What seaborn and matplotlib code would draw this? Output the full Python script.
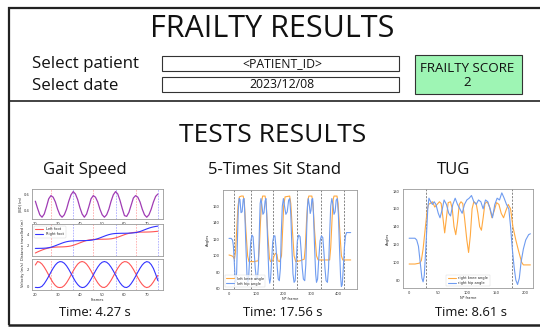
import matplotlib
matplotlib.use("Agg")
import matplotlib.pyplot as plt
from matplotlib.patches import Rectangle
from matplotlib.lines import Line2D
import seaborn as sns
import numpy as np

# ---------------- data ----------------
gait_frames = list(range(20, 76))
gait_bd = [0.51,0.42,0.34,0.31, 0.35,0.44,0.54,0.58, 0.56,0.50,0.41,0.34,0.31,
           0.34,0.41,0.51,0.59,0.63, 0.60,0.53,0.43,0.35,0.31, 0.35,0.44,0.54,0.58,
           0.56,0.50,0.41,0.34,0.31, 0.34,0.41,0.51,0.59,0.63, 0.60,0.52,0.42,0.33,0.32,
           0.37,0.46,0.55,0.58, 0.56,0.50,0.41,0.34,0.31, 0.34,0.41,0.50,0.57,0.60]
gait_dist_left = [0.60,0.80,0.98,1.15,1.30,1.43,1.53,1.61,1.66,1.69,1.71,1.72,1.73,1.75,
                  1.78,1.83,1.91,2.02,2.16,2.31,2.47,2.63,2.78,2.91,3.00,3.06,3.10,3.12,
                  3.13,3.14,3.14,3.15,3.16,3.18,3.22,3.29,3.39,3.52,3.67,3.83,3.98,4.12,
                  4.23,4.32,4.38,4.42,4.44,4.45,4.46,4.46,4.47,4.48,4.50,4.53,4.57,4.61]
gait_dist_right = [1.45,1.45,1.46,1.47,1.49,1.52,1.58,1.67,1.80,1.95,2.11,2.27,2.43,2.57,
                   2.68,2.76,2.81,2.84,2.86,2.87,2.88,2.88,2.89,2.90,2.92,2.96,3.02,3.11,
                   3.24,3.39,3.55,3.71,3.86,3.99,4.09,4.16,4.20,4.22,4.23,4.24,4.24,4.25,
                   4.26,4.28,4.31,4.36,4.45,4.57,4.72,4.88,5.04,5.19,5.32,5.42,5.50,5.56]
gait_vel_left = [2.50,2.90,2.82,2.60,2.25,1.82,1.34,0.87,0.45,0.13,-0.06,-0.10,-0.06,0.13,
                 0.45,0.87,1.34,1.82,2.25,2.60,2.82,2.90,2.82,2.60,2.25,1.82,1.34,0.87,
                 0.45,0.13,-0.06,-0.09,0.05,0.35,0.74,1.20,1.68,2.13,2.51,2.77,2.89,2.86,
                 2.70,2.40,2.00,1.53,1.05,0.60,0.25,0.00,-0.10,-0.03,0.20,0.55,0.98,1.30]
gait_vel_right = [-0.08,-0.10,-0.08,0.05,0.35,0.75,1.20,1.68,2.13,2.51,2.77,2.89,2.86,2.70,
                  2.40,2.00,1.53,1.05,0.60,0.25,0.00,-0.10,-0.06,0.13,0.45,0.87,1.34,1.82,
                  2.25,2.60,2.82,2.90,2.82,2.60,2.25,1.82,1.34,0.87,0.45,0.13,-0.06,-0.09,
                  0.05,0.35,0.74,1.20,1.68,2.13,2.51,2.77,2.89,2.82,2.55,2.10,1.45,0.70]
gait_left_strikes = [27, 46, 65]
gait_right_strikes = [37, 56, 75]

sts_knee_frames = [0,10,15,20,24,28,33,38,45,52,56,62,68,73,90,107,111,115,119,123,132,136,142,148,
                   152,160,165,170,175,179,185,192,196,200,205,222,226,232,238,244,260,275,279,284,
                   289,292,303,307,313,320,326,345,368,372,377,381,384,395,399,405,411,416,430,445]
sts_knee = [101,100,99,96,105,130,160,171,172,172,165,130,100,93,93,94,110,140,165,172,172,163,125,97,
            93,94,100,103,102,94,93,100,130,160,171,172,163,130,100,93,94,96,110,145,
            168,172,172,163,130,100,95,95,95,110,145,168,172,172,163,130,100,95,95,95]
sts_hip_frames = [0,8,13,16,19,22,25,28,31,34,37,40,44,48,52,55,58,62,66,69,72,76,80,84,88,92,96,100,
                  104,108,111,114,117,120,124,128,132,135,138,142,146,149,152,156,160,164,168,172,176,
                  180,184,188,191,195,199,203,208,213,218,222,226,230,234,238,242,246,250,255,260,264,
                  268,272,277,281,284,287,290,294,297,300,303,306,309,313,317,320,324,328,333,338,343,
                  347,351,355,360,364,368,372,376,380,384,388,392,396,400,404,408,411,414,418,422,426,
                  430,440,445]
sts_hip = [121,121,119,112,95,75,68,80,120,155,169,168,152,153,168,169,150,110,75,68,75,100,118,125,123,
           105,85,73,72,90,130,163,169,162,150,152,166,169,150,110,75,67,72,95,117,124,124,110,88,
           72,70,85,125,160,169,160,150,153,167,169,150,110,78,68,70,95,118,125,123,105,
           85,72,70,90,130,160,169,160,151,155,168,169,150,110,78,68,72,95,118,124,122,
           105,85,70,68,85,125,160,169,162,150,153,167,169,150,110,75,63,65,85,110,124,
           128,128,128]
sts_events = [20, 79, 160, 248, 336, 421]

tug_knee_frames = [0,10,18,21,24,28,31,33,36,40,44,48,52,55,58,61,64,67,71,74,77,80,83,86,89,92,95,
                   99,102,105,108,111,115,118,121,124,127,130,134,138,142,146,150,154,158,162,166,170,
                   174,178,183,188,193,196,205,208]
tug_knee = [98,98,99,102,115,140,158,165,166,168,162,165,168,166,150,133,150,167,168,160,140,131,145,
            165,168,166,150,125,111,130,160,168,166,155,140,136,150,166,168,162,150,158,167,165,155,
            150,158,165,160,140,125,112,100,97,97,97]
tug_hip_frames = [0,10,13,16,19,22,24,26,29,32,34,37,40,43,46,50,53,57,60,64,68,71,75,79,83,87,91,95,
                  99,103,107,111,115,119,123,127,131,135,139,143,147,151,155,159,163,167,171,174,177,
                  180,183,186,189,192,196,200,205,208]
tug_hip = [127,127,125,118,100,82,78,85,120,160,172,168,165,168,165,155,150,160,170,165,155,152,165,
           172,165,160,155,165,170,172,175,168,165,170,168,160,170,168,160,150,165,172,170,178,172,
           165,160,140,115,95,80,75,82,100,115,125,131,132]
tug_events = [28.6, 177]

# ---------------- style ----------------
sns.set_style("white")
plt.rcParams['font.family'] = ['Open Sans', 'DejaVu Sans']

W, H = 540, 329
fig = plt.figure(figsize=(W / 100, H / 100), dpi=100)
fig.patch.set_facecolor("white")
fig.patch.set_edgecolor("white")
fig.patch.set_linewidth(0)


def frect(x0, y0, x1, y1):
    return [x0 / W, 1 - y1 / H, (x1 - x0) / W, (y1 - y0) / H]


def ftext(x, y, s, size, ha='center', **kw):
    fig.text(x / W, 1 - y / H, s, fontsize=size, ha=ha, va='baseline', color='#111111', **kw)


def fline(x0, y0, x1, y1, lw=1.6, color='#222222'):
    fig.add_artist(Line2D([x0 / W, x1 / W], [1 - y0 / H, 1 - y1 / H], lw=lw, color=color,
                          transform=fig.transFigure, solid_capstyle='butt'))


def fbox(x0, y0, x1, y1, fc='white', ec='#333333', lw=0.8):
    fig.add_artist(Rectangle((x0 / W, 1 - y1 / H), (x1 - x0) / W, (y1 - y0) / H, fc=fc, ec=ec,
                             lw=lw, transform=fig.transFigure))


# frame lines
fline(8, 7.5, W, 7.5)
fline(8.5, 7, 8.5, 325)
fline(8, 101, W, 101, lw=1.2)
fline(8, 324.5, W, 324.5, lw=1.8)

# header texts
ftext(272.5, 37, "FRAILTY RESULTS", 22)
ftext(32, 68.5, "Select patient", 12.2, ha='left')
ftext(32, 90, "Select date", 12.2, ha='left')
fbox(162, 56, 399, 70.5)
fbox(162, 77.5, 399, 92)
ftext(282, 66.8, "<PATIENT_ID>", 8.8)
ftext(282, 88.3, "2023/12/08", 8.8)
fbox(415, 55, 522, 94, fc='#9ef5b4', ec='#333333')
ftext(467, 71.5, "FRAILTY SCORE", 9.6)
ftext(467, 86, "2", 9.6)

ftext(273, 141.5, "TESTS RESULTS", 19)
ftext(85, 174, "Gait Speed", 12)
ftext(274.5, 174, "5-Times Sit Stand", 12)
ftext(454, 174, "TUG", 12)
ftext(95, 316.5, "Time: 4.27 s", 9.4)
ftext(283, 316.5, "Time: 17.56 s", 9.4)
ftext(471, 316.5, "Time: 8.61 s", 9.4)

TS = 2.6  # tiny font


def style_ax(ax):
    ax.tick_params(labelsize=TS, length=1.2, width=0.3, pad=0.8, colors='#333333')
    for s in ax.spines.values():
        s.set_color('#9a9a9a')
        s.set_linewidth(0.6)
    for lab in ax.get_xticklabels() + ax.get_yticklabels():
        lab.set_fontfamily('DejaVu Sans')


def vlines(ax, xs, color, ls='--', lw=0.4, alpha=1.0):
    for x in xs:
        ax.axvline(x, color=color, ls=ls, lw=lw, alpha=alpha)


# ---------------- gait speed ----------------
ax1 = fig.add_axes(frect(32, 189, 163, 219))
ax2 = fig.add_axes(frect(32, 224, 163, 256))
ax3 = fig.add_axes(frect(32, 259, 163, 290))
for ax in (ax1, ax2, ax3):
    ax.set_xlim(18.5, 77.3)
    ax.set_xticks([20, 30, 40, 50, 60, 70])
    vlines(ax, gait_left_strikes, '#ff8080', lw=0.4, ls=(0, (3, 2)))
    vlines(ax, gait_right_strikes, '#8080ff', lw=0.4, ls=(0, (3, 2)))

sns.lineplot(x=gait_frames, y=gait_bd, ax=ax1, color='#a03cb4', lw=0.9)
ax1.set_ylim(0.2875, 0.6625)
ax1.set_yticks([0.4, 0.6])
ax1.set_ylabel("|BD| (m)", fontsize=TS, labelpad=1, family='DejaVu Sans')

sns.lineplot(x=gait_frames, y=gait_dist_left, ax=ax2, color='#ff5555', lw=0.8, label='Left foot')
sns.lineplot(x=gait_frames, y=gait_dist_right, ax=ax2, color='#3333ff', lw=0.8, label='Right foot')
ax2.set_ylim(0.05, 5.95)
ax2.set_yticks([2, 4])
ax2.set_ylabel("Distance travelled (m)", fontsize=TS, labelpad=1.5, family='DejaVu Sans')
leg = ax2.legend(loc='upper left', fontsize=TS, frameon=True, handlelength=2.2, borderpad=0.4,
                 labelspacing=0.3, prop={'family': 'DejaVu Sans', 'size': TS})
leg.get_frame().set_linewidth(0.3)

sns.lineplot(x=gait_frames, y=gait_vel_left, ax=ax3, color='#ff5555', lw=0.8)
sns.lineplot(x=gait_frames, y=gait_vel_right, ax=ax3, color='#3333ff', lw=0.8)
ax3.set_ylim(-0.38, 3.19)
ax3.set_yticks([0, 2])
ax3.set_ylabel("Velocity (m/s)", fontsize=TS, labelpad=1.5, family='DejaVu Sans')
ax3.set_xlabel("Frames", fontsize=TS, labelpad=1, family='DejaVu Sans')
for ax in (ax1, ax2, ax3):
    style_ax(ax)

# ---------------- 5 times sit stand ----------------
ax4 = fig.add_axes(frect(222.7, 190, 356.7, 289))
vlines(ax4, sts_events, '#555555', lw=0.5, ls=(0, (3, 2)))
sns.lineplot(x=sts_knee_frames, y=sts_knee, ax=ax4, color='#ffa940', lw=0.8, label='left knee angle')
sns.lineplot(x=sts_hip_frames, y=sts_hip, ax=ax4, color='#6f9cf0', lw=0.8, label='left hip angle')
ax4.set_xlim(-23, 467)
ax4.set_ylim(60, 179.3)
ax4.set_xticks([0, 100, 200, 300, 400])
ax4.set_yticks([60, 80, 100, 120, 140, 160])
ax4.set_ylabel("Angles", fontsize=TS, labelpad=2, family='DejaVu Sans')
ax4.set_xlabel("Nº frame", fontsize=TS, labelpad=1, family='DejaVu Sans')
leg = ax4.legend(loc='lower left', fontsize=TS, frameon=True, handlelength=2.2, borderpad=0.4,
                 labelspacing=0.3, prop={'family': 'DejaVu Sans', 'size': TS})
leg.get_frame().set_linewidth(0.3)
style_ax(ax4)

# ---------------- TUG ----------------
ax5 = fig.add_axes(frect(402.7, 189.3, 533.3, 288.3))
vlines(ax5, tug_events, '#555555', lw=0.5, ls=(0, (3, 2)))
sns.lineplot(x=tug_knee_frames, y=tug_knee, ax=ax5, color='#ffa940', lw=0.8, label='right knee angle')
sns.lineplot(x=tug_hip_frames, y=tug_hip, ax=ax5, color='#6f9cf0', lw=0.8, label='right hip angle')
ax5.set_xlim(-11, 213)
ax5.set_ylim(70.7, 182)
ax5.set_xticks([0, 50, 100, 150, 200])
ax5.set_yticks([80, 100, 120, 140, 160, 180])
ax5.set_ylabel("Angles", fontsize=TS, labelpad=2, family='DejaVu Sans')
ax5.set_xlabel("Nº frame", fontsize=TS, labelpad=1, family='DejaVu Sans')
leg = ax5.legend(loc='lower center', fontsize=TS, frameon=True, handlelength=2.2, borderpad=0.4,
                 labelspacing=0.3, prop={'family': 'DejaVu Sans', 'size': TS})
leg.get_frame().set_linewidth(0.3)
style_ax(ax5)

fig.savefig("out.png", dpi=100, facecolor='white')
